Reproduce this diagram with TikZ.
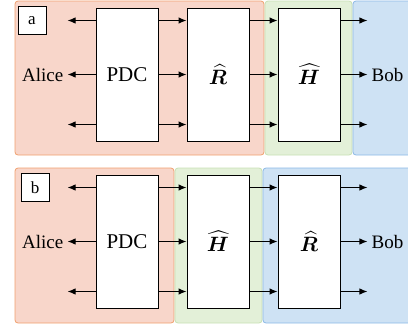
\documentclass[tikz,border=0pt]{standalone}
\usepackage{fontspec}
\setmainfont{Liberation Serif}
\usepackage{amsmath,bm}
\usetikzlibrary{arrows.meta,positioning}

\definecolor{alicefill}{RGB}{248,214,202}
\definecolor{aliceline}{RGB}{240,160,110}
\definecolor{midfill}{RGB}{227,240,216}
\definecolor{midline}{RGB}{200,224,180}
\definecolor{bobfill}{RGB}{206,226,244}
\definecolor{bobline}{RGB}{140,185,230}

\begin{document}
\begin{tikzpicture}[x=1pt,y=-1pt]

    \pgfdeclarelayer{background}
    \pgfsetlayers{background,main}

    \tikzstyle{block} = [draw, fill=white, line width=0.9pt, minimum width=62pt,
        minimum height=133pt, inner sep=0pt, font=\fontsize{21}{24}\selectfont]

    \tikzstyle{tag} = [draw, fill=white, line width=0.9pt, minimum size=28pt,
        inner sep=0pt, font=\fontsize{17}{20}\selectfont]

    \tikzstyle{party} = [inner sep=4pt, font=\fontsize{19}{22}\selectfont]

    \tikzstyle{sig} = [line width=1.1pt, -{Latex[length=8pt,width=6.5pt]}]

    \tikzstyle{zone} = [rounded corners=3pt, line width=0.8pt]

    \useasboundingbox (0,0) rectangle (408,330);
    \clip (0,0) rectangle (408,330);

    % Panel a
    \node [tag] (taga) at (32,20.5) {a};
    \node [block] (pdca) at (127,74.5) {PDC};
    \node [block, right of=pdca, node distance=91pt] (ra) {$\widehat{\bm{R}}$};
    \node [block, right of=ra, node distance=91pt] (ha) {$\widehat{\bm{H}}$};
    \node [party, left=28pt of pdca] (alicea) {Alice};
    \node [party, right=27pt of ha] (boba) {Bob};

    % Panel b
    \node [tag] (tagb) at (35,187.5) {b};
    \node [block] (pdcb) at (127,241.5) {PDC};
    \node [block, right of=pdcb, node distance=91pt] (hb) {$\widehat{\bm{H}}$};
    \node [block, right of=hb, node distance=91pt] (rb) {$\widehat{\bm{R}}$};
    \node [party, left=28pt of pdcb] (aliceb) {Alice};
    \node [party, right=27pt of rb] (bobb) {Bob};

    \begin{pgfonlayer}{background}
        \path[zone, fill=alicefill, draw=aliceline] (15,1) rectangle (264,155);
        \path[zone, fill=midfill, draw=midline] (265,1) rectangle (352,155);
        \path[zone, fill=bobfill, draw=bobline] (353,1) rectangle (420,155);

        \path[zone, fill=alicefill, draw=aliceline] (15,168) rectangle (174,323);
        \path[zone, fill=midfill, draw=midline] (175,168) rectangle (262,323);
        \path[zone, fill=bobfill, draw=bobline] (263,168) rectangle (420,323);
    \end{pgfonlayer}

    % signal lines
    \foreach \dy in {54,0,-50} {
        \draw[sig] ([yshift=\dy pt]pdca.east) -- ([yshift=\dy pt]ra.west);
        \draw[sig] ([yshift=\dy pt]ra.east) -- ([yshift=\dy pt]ha.west);
        \draw[sig] ([yshift=\dy pt]ha.east) -- ([yshift=\dy pt]boba.west);
        \draw[sig] ([yshift=\dy pt]pdca.west) -- ([yshift=\dy pt]alicea.east);

        \draw[sig] ([yshift=\dy pt]pdcb.east) -- ([yshift=\dy pt]hb.west);
        \draw[sig] ([yshift=\dy pt]hb.east) -- ([yshift=\dy pt]rb.west);
        \draw[sig] ([yshift=\dy pt]rb.east) -- ([yshift=\dy pt]bobb.west);
        \draw[sig] ([yshift=\dy pt]pdcb.west) -- ([yshift=\dy pt]aliceb.east);
    }

\end{tikzpicture}
\end{document}
